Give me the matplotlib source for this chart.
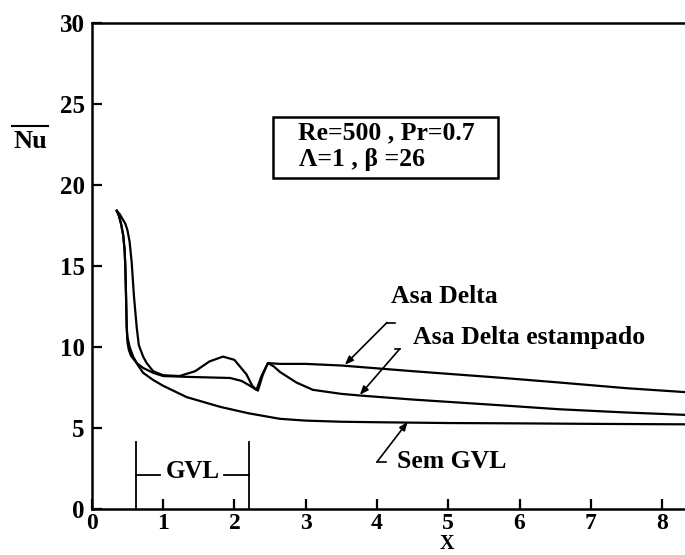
import matplotlib
matplotlib.use("Agg")
import matplotlib.pyplot as plt
from matplotlib.lines import Line2D
from matplotlib.patches import Rectangle

# ---- data ----
x_asa = [0.35, 0.39, 0.43, 0.47, 0.50, 0.53, 0.56, 0.59, 0.63, 0.66, 0.72, 0.77, 0.86,
         1.00, 1.23, 1.45, 1.65, 1.84, 2.00, 2.17, 2.25, 2.31, 2.38, 2.47, 2.64, 3.00,
         3.50, 4.50, 5.72, 6.56, 7.50, 8.35]
y_asa = [18.4, 18.2, 17.9, 17.6, 17.2, 16.5, 15.2, 13.2, 11.2, 10.1, 9.4, 9.0, 8.5,
         8.25, 8.2, 8.5, 9.1, 9.4, 9.2, 8.3, 7.6, 7.35, 8.2, 9.0, 8.95, 8.95,
         8.85, 8.5, 8.1, 7.8, 7.45, 7.2]

x_est = [0.35, 0.38, 0.41, 0.44, 0.46, 0.47, 0.48, 0.49, 0.50, 0.52, 0.55, 0.63, 0.72,
         0.86, 1.00, 1.33, 1.94, 2.10, 2.20, 2.33, 2.40, 2.47, 2.55, 2.64, 2.87, 3.10,
         3.50, 3.76, 4.50, 5.72, 6.56, 7.50, 8.35]
y_est = [18.4, 18.1, 17.6, 16.9, 16.0, 15.0, 13.2, 11.2, 10.3, 9.8, 9.45, 9.0, 8.7,
         8.4, 8.2, 8.15, 8.08, 7.9, 7.65, 7.3, 8.3, 9.0, 8.8, 8.45, 7.8, 7.35,
         7.1, 7.0, 6.75, 6.4, 6.15, 5.95, 5.8]

x_sem = [0.35, 0.38, 0.41, 0.44, 0.46, 0.47, 0.48, 0.49, 0.50, 0.53, 0.58, 0.65, 0.72,
         0.86, 1.00, 1.33, 1.80, 2.20, 2.64, 3.00, 3.50, 4.00, 5.00, 6.00, 7.00, 8.35]
y_sem = [18.4, 18.1, 17.6, 16.9, 16.0, 15.0, 13.2, 11.2, 10.6, 10.0, 9.4, 8.85, 8.4,
         7.96, 7.6, 6.9, 6.3, 5.9, 5.56, 5.45, 5.38, 5.35, 5.30, 5.28, 5.25, 5.22]

x_ticks = [0, 1, 2, 3, 4, 5, 6, 7, 8]
y_ticks = [0, 5, 10, 15, 20, 25, 30]
gvl_span = (0.62, 2.2)
info_line1 = "Re=500 , Pr=0.7"
info_line2 = "Λ=1 , β =26"

SERIF = ["Liberation Serif", "DejaVu Serif"]
plt.rcParams["font.family"] = SERIF
plt.rcParams["font.weight"] = "bold"

fig = plt.figure(figsize=(6.85, 5.55), dpi=100)
ax = fig.add_axes([0.134, 0.083, 0.866, 0.876])
ax.set_xlim(0, 8.32)
ax.set_ylim(0, 30)

lw = 1.6
ax.plot(x_asa, y_asa, color="black", lw=lw)
ax.plot(x_est, y_est, color="black", lw=lw)
ax.plot(x_sem, y_sem, color="black", lw=lw)

for s in ["left", "bottom", "top"]:
    ax.spines[s].set_linewidth(1.8)
ax.spines["right"].set_visible(False)

ax.set_xticks(x_ticks)
ax.set_yticks(y_ticks)
ax.tick_params(direction="in", length=7, width=1.6, labelsize=18)
ax.tick_params(axis="x", pad=3, labelsize=17)
ax.tick_params(axis="y", pad=5)
for lab in ax.get_xticklabels() + ax.get_yticklabels():
    lab.set_fontweight("bold")

# axis labels
fig.text(447 / 685, 1 - 554 / 555, "X", ha="center", va="bottom",
         fontsize=14.5, fontweight="bold")
fig.text(30 / 685, 1 - 141 / 555, "Nu", ha="center", va="center",
         fontsize=19, fontweight="bold")
fig.add_artist(Line2D([12 / 685, 48 / 685], [1 - 126 / 555, 1 - 126 / 555],
                      color="black", lw=1.5))

# info box
ax.add_patch(Rectangle((0.305, 0.681), 0.38, 0.126, transform=ax.transAxes,
                       fill=False, ec="black", lw=1.8))
ax.text(0.347, 0.774, info_line1, transform=ax.transAxes, ha="left", va="center",
        fontsize=18.5, fontweight="bold")
ax.text(0.350, 0.718, info_line2, transform=ax.transAxes, ha="left", va="center",
        fontsize=18.5, fontweight="bold")

# annotations with arrows
arrow = dict(arrowstyle="-|>,head_length=0.5,head_width=0.2", color="black", lw=1.2,
             shrinkA=0, shrinkB=0)
ax.annotate("", xy=(3.55, 8.9), xytext=(4.14, 11.5), arrowprops=arrow)
ax.plot([4.14, 4.25], [11.5, 11.5], color="black", lw=1.2)
ax.text(4.2, 13.1, "Asa Delta", fontsize=18.5, fontweight="bold", va="center")

ax.annotate("", xy=(3.76, 7.04), xytext=(4.32, 9.88), arrowprops=arrow)
ax.plot([4.25, 4.32], [9.88, 9.88], color="black", lw=1.2)
ax.text(4.5, 10.55, "Asa Delta estampado", fontsize=18.5, fontweight="bold", va="center")

ax.annotate("", xy=(4.43, 5.37), xytext=(4.0, 2.9), arrowprops=arrow)
ax.plot([4.0, 4.12], [2.9, 2.9], color="black", lw=1.2)
ax.text(4.28, 2.9, "Sem GVL", fontsize=18.5, fontweight="bold", va="center")

# GVL bracket
g0, g1 = gvl_span
ax.plot([g0, g0], [0, 4.1], color="black", lw=1.3)
ax.plot([g1, g1], [0, 4.1], color="black", lw=1.3)
ax.plot([g0, g0 + 0.34], [2.1, 2.1], color="black", lw=1.3)
ax.plot([g1 - 0.35, g1], [2.1, 2.1], color="black", lw=1.3)
ax.text((g0 + g1) / 2, 2.3, "GVL", fontsize=18, fontweight="bold",
        ha="center", va="center")

fig.savefig("out.png", dpi=100)
